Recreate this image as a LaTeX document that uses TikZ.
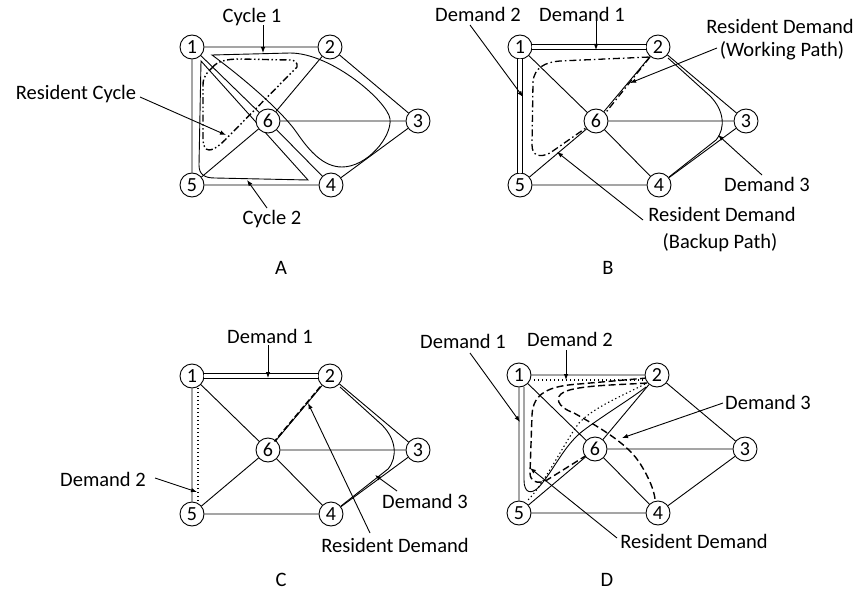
\documentclass[tikz,border=0pt]{standalone}
\usepackage{fontspec}
\setmainfont{Carlito}
\usetikzlibrary{arrows.meta}
\newcommand\netgraph[1]{%
 \node[nd] (#11) at (0,0) {1};
 \node[nd] (#12) at (138,0) {2};
 \node[nd] (#13) at (226,74) {3};
 \node[nd] (#14) at (139,138) {4};
 \node[nd] (#15) at (0,138) {5};
 \node[nd] (#16) at (76,74) {6};
 \draw[edge] (#11)--(#12) (#11)--(#15) (#11)--(#16) (#12)--(#13) (#12)--(#16)
   (#13)--(#16) (#13)--(#14) (#14)--(#16) (#14)--(#15) (#15)--(#16);
}
\begin{document}
\begin{tikzpicture}[x=1pt,y=-1pt,
  nd/.style={circle,draw,fill=white,minimum size=24pt,inner sep=0pt,line width=0.9pt,
    font=\fontsize{20}{22}\selectfont},
  edge/.style={line width=0.9pt},
  thin/.style={line width=0.9pt},
  dbl/.style={double,double distance=3.5pt,line width=0.9pt},
  lbl/.style={font=\fontsize{20.5}{25}\selectfont,text height=13pt,text depth=0pt,inner sep=0pt},
  arr/.style={line width=0.9pt,-{Latex[length=6pt,width=4.5pt]}},
  dashdotdot/.style={line width=1.4pt,dash pattern=on 7pt off 2.5pt on 1.5pt off 2.5pt on 1.5pt off 2.5pt},
  dashdot/.style={line width=1.3pt,dash pattern=on 7pt off 3pt on 1.5pt off 3pt},
  thickdash/.style={line width=1.6pt,dash pattern=on 6pt off 2.5pt},
  longdash/.style={line width=1.4pt,dash pattern=on 7pt off 3.5pt},
  dotline/.style={line width=1.1pt,dash pattern=on 1.3pt off 2.7pt}]
\useasboundingbox (0,0) rectangle (859,591);

% ---------------- Panel A ----------------
\begin{scope}[shift={(192,47)}]
 \draw[thin] (20,8) -- (98,6) .. controls (140,6) and (196,55) .. (198,72)
   .. controls (200,90) and (175,120) .. (150,120)
   .. controls (132,120) and (118,105) .. (105,86)
   .. controls (90,64) and (50,30) .. (20,8) -- cycle;
 \draw[thin] (9,14) -- (7,118) .. controls (7,128) and (13,131) .. (23,131) -- (116,133) -- cycle;
 \draw[dashdotdot] (20,21) .. controls (25,14) and (35,12) .. (48,12) -- (98,13)
   .. controls (103,13) and (106,16) .. (105,20) -- (33,93)
   .. controls (25,101) and (20,103) .. (17,103) .. controls (13,103) and (11,98) .. (11,92)
   -- (11,38) .. controls (11,30) and (15,25) .. (20,21) -- cycle;
 \netgraph{a}
\end{scope}
\node[lbl] (lc1) at (252,16) {Cycle 1};
\node[lbl] (lrc) at (76,93) {Resident Cycle};
\node[lbl] (lc2) at (272,218) {Cycle 2};
\node[lbl] (lA) at (281,268) {A};
\coordinate (ac1s) at (263,25); \coordinate (ac1t) at (263,53);
\coordinate (arcs) at (140,97); \coordinate (arct) at (226,135);
\coordinate (ac2s) at (267,208); \coordinate (ac2t) at (247,180);
\draw[arr] (ac1s) -- (ac1t);
\draw[arr] (arcs) -- (arct);
\draw[arr] (ac2s) -- (ac2t);

% ---------------- Panel B ----------------
\begin{scope}[shift={(520,47)}]
 \draw[thin] (148,11) -- (190,49) .. controls (204,63) and (206,81) .. (196,93) -- (149,130);
 \draw[dashdot] (130,10) -- (83,69) -- (30,106) .. controls (20,111) and (12,109) .. (12,98)
   -- (13,35) .. controls (14,21) and (25,15) .. (40,14) -- cycle;
 \netgraph{b}
 \draw[dbl] (b1) -- (b2);
 \draw[dbl] (b1) -- (b5);
\end{scope}
\node[lbl] (lbd2) at (478,15) {Demand 2};
\node[lbl] (lbd1) at (582,15) {Demand 1};
\node[lbl] (lbw1) at (780,27) {Resident Demand};
\node[lbl] (lbw2) at (782,50) {(Working Path)};
\node[lbl] (lbd3) at (767,185) {Demand 3};
\node[lbl] (lbb1) at (722,215) {Resident Demand};
\node[lbl] (lbb2) at (720,242) {(Backup Path)};
\node[lbl] (lB) at (608,268) {B};
\coordinate (bd2s) at (470,25); \coordinate (bd2t) at (523,97);
\coordinate (bd1s) at (596,20); \coordinate (bd1t) at (596,50);
\coordinate (bws) at (717,48); \coordinate (bwt) at (630,83);
\coordinate (bd3s) at (762,175); \coordinate (bd3t) at (718,135);
\coordinate (bbs) at (643,220); \coordinate (bbt) at (557,152);
\draw[arr] (bd2s) -- (bd2t);
\draw[arr] (bd1s) -- (bd1t);
\draw[arr] (bws) -- (bwt);
\draw[arr] (bd3s) -- (bd3t);
\draw[arr] (bbs) -- (bbt);

% ---------------- Panel C ----------------
\begin{scope}[shift={(192,376)}]
 \draw[thin] (148,11) -- (190,49) .. controls (204,63) and (206,81) .. (196,93) -- (149,130);
 \draw[dotline] (6,12) -- (6,127);
 \netgraph{c}
 \draw[dbl] (c1) -- (c2);
 \draw[thickdash,transform canvas={xshift=-1.5pt,yshift=-1pt}] (c2) -- (c6);
\end{scope}
\node[lbl] (lcd1) at (270,337) {Demand 1};
\node[lbl] (lcd2) at (103,480) {Demand 2};
\node[lbl] (lcd3) at (425,502) {Demand 3};
\node[lbl] (lcr) at (395,546) {Resident Demand};
\node[lbl] (lC) at (281,580) {C};
\coordinate (cd1s) at (268,345); \coordinate (cd1t) at (268,378);
\coordinate (cd2s) at (155,478); \coordinate (cd2t) at (197,492);
\coordinate (cd3s) at (397,491); \coordinate (cd3t) at (375,475);
\coordinate (crs) at (370,533); \coordinate (crt) at (308,403);
\draw[arr] (cd1s) -- (cd1t);
\draw[arr] (cd2s) -- (cd2t);
\draw[arr] (cd3s) -- (cd3t);
\draw[arr] (crs) -- (crt);

% ---------------- Panel D ----------------
\begin{scope}[shift={(519,375)}]
 \draw[thin] (5,12) -- (5,105) .. controls (5,118) and (12,120) .. (20,112)
   .. controls (35,95) and (45,70) .. (65,55) .. controls (85,40) and (110,25) .. (127,12);
 \draw[dotline] (15,5) -- (125,5);
 \draw[dotline] (126,9) .. controls (105,20) and (75,32) .. (60,48)
   .. controls (45,68) and (25,110) .. (8,126);
 \draw[longdash] (128,8) .. controls (100,10) and (60,10) .. (45,17)
   .. controls (35,22) and (38,32) .. (55,38) .. controls (85,55) and (110,70) .. (122,90)
   .. controls (130,103) and (135,115) .. (136,124);
 \draw[longdash] (128,3) -- (60,9) .. controls (30,11) and (14,18) .. (13,40) -- (11,98)
   .. controls (11,106) and (18,110) .. (28,105) -- (68,80);
 \netgraph{d}
\end{scope}
\node[lbl] (ldd1) at (463,342) {Demand 1};
\node[lbl] (ldd2) at (570,340) {Demand 2};
\node[lbl] (ldd3) at (768,403) {Demand 3};
\node[lbl] (ldr) at (694,542) {Resident Demand};
\node[lbl] (lD) at (607,580) {D};
\coordinate (dd1s) at (470,353); \coordinate (dd1t) at (520,422);
\coordinate (dd2s) at (566,350); \coordinate (dd2t) at (566,380);
\coordinate (dd3s) at (723,403); \coordinate (dd3t) at (622,438);
\coordinate (drs) at (617,538); \coordinate (drt) at (530,468);
\draw[arr] (dd1s) -- (dd1t);
\draw[arr] (dd2s) -- (dd2t);
\draw[arr] (dd3s) -- (dd3t);
\draw[arr] (drs) -- (drt);
\end{tikzpicture}
\end{document}
